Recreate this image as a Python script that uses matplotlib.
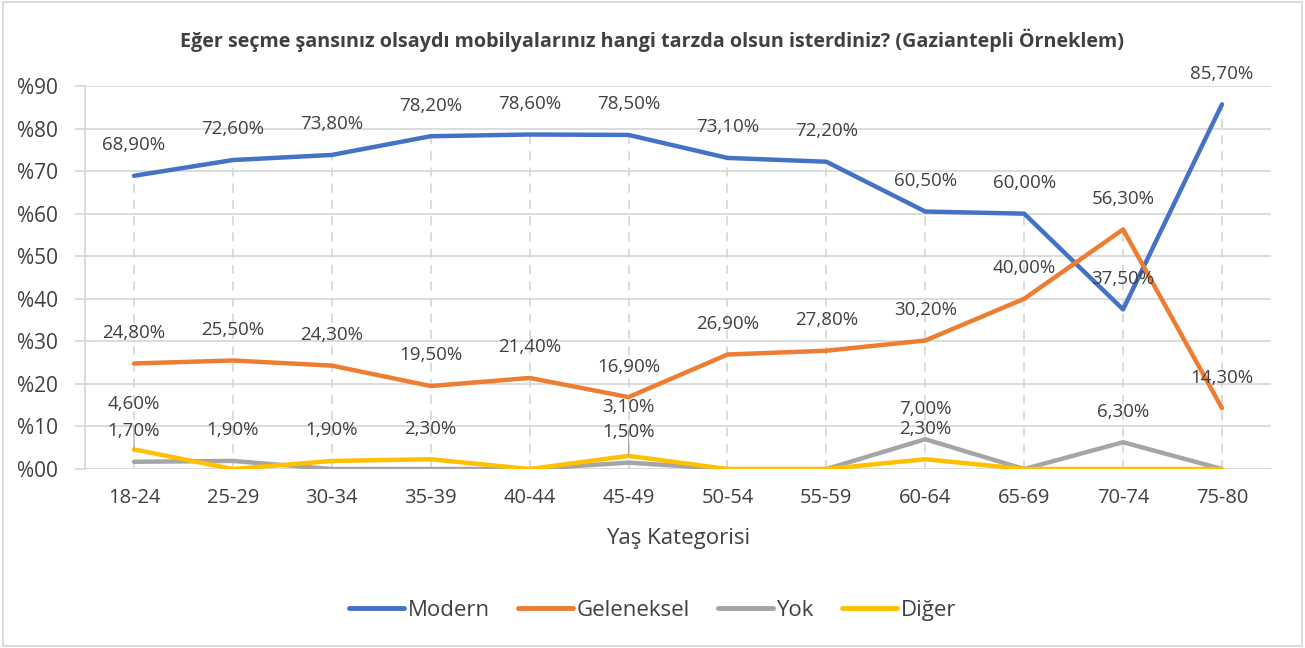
import matplotlib
matplotlib.use("Agg")
import matplotlib.pyplot as plt
from matplotlib.patches import Rectangle

plt.rcParams['font.family'] = ['Open Sans', 'DejaVu Sans']

categories = ["18-24", "25-29", "30-34", "35-39", "40-44", "45-49",
              "50-54", "55-59", "60-64", "65-69", "70-74", "75-80"]
modern = [68.9, 72.6, 73.8, 78.2, 78.6, 78.5, 73.1, 72.2, 60.5, 60.0, 37.5, 85.7]
geleneksel = [24.8, 25.5, 24.3, 19.5, 21.4, 16.9, 26.9, 27.8, 30.2, 40.0, 56.3, 14.3]
yok = [1.7, 1.9, 0, 0, 0, 1.5, 0, 0, 7.0, 0, 6.3, 0]
diger = [4.6, 0, 1.9, 2.3, 0, 3.1, 0, 0, 2.3, 0, 0, 0]
series_names = ["Modern", "Geleneksel", "Yok", "Diğer"]
colors = ["#4472C4", "#ED7D31", "#A5A5A5", "#FFC000"]
yticks = [0, 10, 20, 30, 40, 50, 60, 70, 80, 90]
ytick_labels = ["%00", "%10", "%20", "%30", "%40", "%50", "%60", "%70", "%80", "%90"]
title = "Eğer seçme şansınız olsaydı mobilyalarınız hangi tarzda olsun isterdiniz? (Gaziantepli Örneklem)"
xlabel = "Yaş Kategorisi"

TXT = "#404040"
GRID = "#D9D9D9"

fig = plt.figure(figsize=(13.05, 6.48), dpi=100)
ax = fig.add_axes([0.0648, 0.2762, 0.9095, 0.5911])
x = list(range(len(categories)))
data = [modern, geleneksel, yok, diger]

# drop lines
for i in x:
    top = max(s[i] for s in data)
    ax.plot([i, i], [0, top], color=GRID, lw=1.3, ls=(0, (5, 4)), zorder=1)

for s, name, c in zip(data, series_names, colors):
    ax.plot(x, s, color=c, lw=3.2, label=name, solid_capstyle='round',
            solid_joinstyle='round', zorder=3)

ax.set_xlim(-0.5, len(categories) - 0.5)
ax.set_ylim(0, 90)
ax.set_yticks(yticks)
ax.set_yticklabels(ytick_labels, fontsize=15, color=TXT)
ax.set_xticks(x)
ax.set_xticklabels(categories, fontsize=14.5, color=TXT)
ax.tick_params(axis='x', length=0, pad=14)
ax.tick_params(axis='y', length=7, color=GRID, width=1.3, pad=12)
ax.grid(axis='y', color=GRID, lw=1.3, zorder=0)
for sp in ["top", "right", "bottom"]:
    ax.spines[sp].set_visible(False)
ax.spines["left"].set_color(GRID)
ax.spines["left"].set_linewidth(1.3)
ax.set_xlabel(xlabel, fontsize=16, color=TXT, labelpad=14)

def fmt(v):
    return ("%.2f" % v).replace(".", ",") + "%"

# data labels (zero values not shown)
special = {(3, 0): 33, (3, 5): 35}
for si, s in enumerate(data):
    for i, v in enumerate(s):
        if v == 0:
            continue
        off = special.get((si, i), 22)
        if (si, i) in special:
            ax.annotate(fmt(v), (i, v), xytext=(0, off), textcoords='offset points',
                        ha='center', va='center', fontsize=13.5, color=TXT, zorder=5,
                        arrowprops=dict(arrowstyle='-', color='#A5A5A5', lw=0.8,
                                        shrinkA=8, shrinkB=0))
        else:
            ax.annotate(fmt(v), (i, v), xytext=(0, off), textcoords='offset points',
                        ha='center', va='center', fontsize=13.5, color=TXT, zorder=5)

fig.text(0.5, 0.938, title, ha='center', va='center', fontsize=14.2,
         fontweight='bold', color=TXT)

leg = fig.legend(loc='center', bbox_to_anchor=(0.5, 0.058), ncol=4, frameon=False,
                 fontsize=16, handlelength=2.5, columnspacing=1.25, handletextpad=0.15)
for t in leg.get_texts():
    t.set_color(TXT)
for h in leg.get_lines():
    h.set_linewidth(3.5)
    h.set_solid_capstyle('round')

fig.patches.append(Rectangle((0.002, 0.003), 0.996, 0.994, transform=fig.transFigure,
                             fill=False, edgecolor=GRID, lw=1.3))

fig.savefig("out.png", dpi=100, facecolor="white")
